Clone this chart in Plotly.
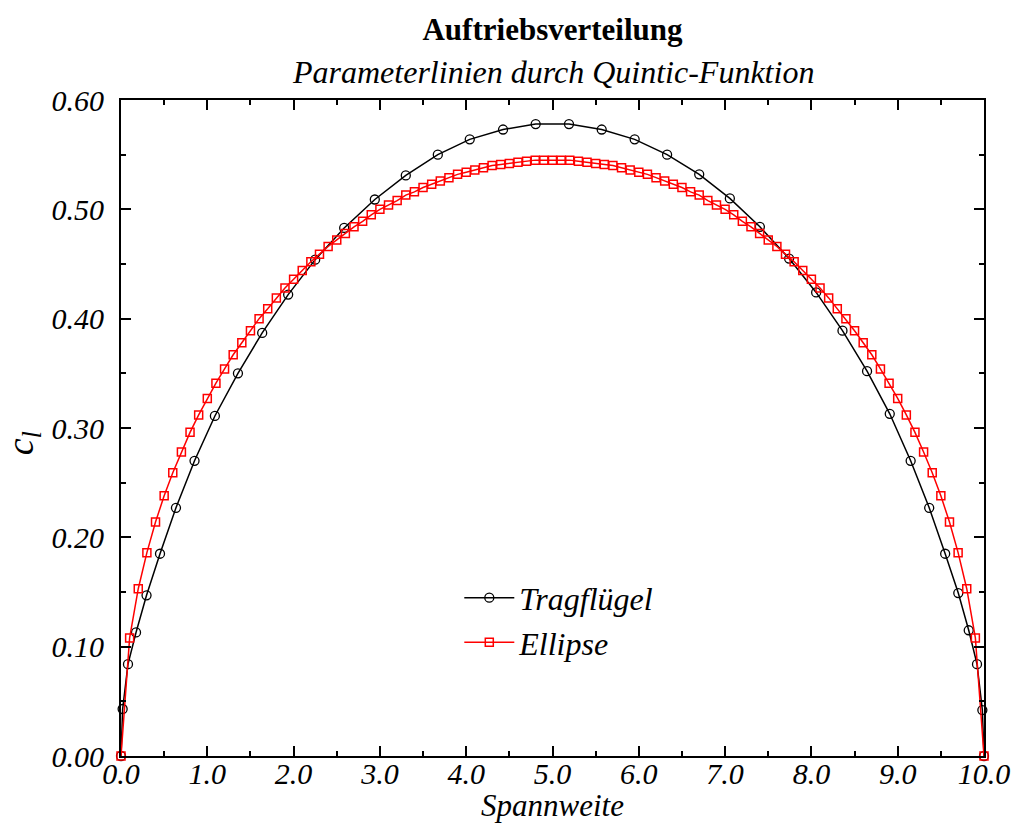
import plotly.graph_objects as go

# Tragflügel: lift coefficient along the span (parameter lines, quintic fit)
spannweite_trag = [
    0.0, 0.019, 0.081, 0.174, 0.296, 0.452, 0.637, 0.852, 1.088, 1.355,
    1.636, 1.937, 2.250, 2.586, 2.941, 3.300, 3.671, 4.041, 4.427, 4.805,
    5.191, 5.570, 5.952, 6.328, 6.700, 7.055, 7.403, 7.742, 8.055, 8.360,
    8.645, 8.908, 9.150, 9.365, 9.550, 9.702, 9.823, 9.919, 9.981, 10.0,
]
cl_trag = [
    0.000, 0.043, 0.084, 0.113, 0.147, 0.185, 0.227, 0.270, 0.311, 0.350,
    0.387, 0.422, 0.454, 0.483, 0.509, 0.531, 0.550, 0.564, 0.573, 0.578,
    0.578, 0.573, 0.564, 0.550, 0.532, 0.510, 0.484, 0.455, 0.424, 0.389,
    0.352, 0.313, 0.270, 0.227, 0.185, 0.149, 0.115, 0.084, 0.042, 0.000,
]

# Ellipse: elliptic lift distribution sampled every 0.1
spannweite_ellipse = [
    0.0, 0.1, 0.2, 0.3, 0.4, 0.5, 0.6, 0.7, 0.8, 0.9,
    1.0, 1.1, 1.2, 1.3, 1.4, 1.5, 1.6, 1.7, 1.8, 1.9,
    2.0, 2.1, 2.2, 2.3, 2.4, 2.5, 2.6, 2.7, 2.8, 2.9,
    3.0, 3.1, 3.2, 3.3, 3.4, 3.5, 3.6, 3.7, 3.8, 3.9,
    4.0, 4.1, 4.2, 4.3, 4.4, 4.5, 4.6, 4.7, 4.8, 4.9,
    5.0, 5.1, 5.2, 5.3, 5.4, 5.5, 5.6, 5.7, 5.8, 5.9,
    6.0, 6.1, 6.2, 6.3, 6.4, 6.5, 6.6, 6.7, 6.8, 6.9,
    7.0, 7.1, 7.2, 7.3, 7.4, 7.5, 7.6, 7.7, 7.8, 7.9,
    8.0, 8.1, 8.2, 8.3, 8.4, 8.5, 8.6, 8.7, 8.8, 8.9,
    9.0, 9.1, 9.2, 9.3, 9.4, 9.5, 9.6, 9.7, 9.8, 9.9,
    10.0,
]
cl_ellipse = [
    0.000, 0.108, 0.153, 0.186, 0.214, 0.238, 0.259, 0.278, 0.296, 0.312,
    0.327, 0.341, 0.354, 0.367, 0.378, 0.389, 0.400, 0.409, 0.419, 0.428,
    0.436, 0.444, 0.452, 0.459, 0.466, 0.472, 0.478, 0.484, 0.489, 0.495,
    0.500, 0.504, 0.508, 0.513, 0.516, 0.520, 0.523, 0.526, 0.529, 0.532,
    0.534, 0.536, 0.538, 0.540, 0.541, 0.542, 0.543, 0.544, 0.545, 0.545,
    0.545, 0.545, 0.545, 0.544, 0.543, 0.542, 0.541, 0.540, 0.538, 0.536,
    0.534, 0.532, 0.529, 0.526, 0.523, 0.520, 0.516, 0.513, 0.508, 0.504,
    0.500, 0.495, 0.489, 0.484, 0.478, 0.472, 0.466, 0.459, 0.452, 0.444,
    0.436, 0.428, 0.419, 0.409, 0.400, 0.389, 0.378, 0.367, 0.354, 0.341,
    0.327, 0.312, 0.296, 0.278, 0.259, 0.238, 0.214, 0.186, 0.153, 0.108,
    0.000,
]
assert len(spannweite_ellipse) == len(cl_ellipse)
assert len(spannweite_trag) == len(cl_trag)

SERIF = "Liberation Serif, Times New Roman, serif"

fig = go.Figure()
fig.add_trace(go.Scatter(
    x=spannweite_trag, y=cl_trag, name="Tragflügel", mode="lines+markers",
    legendgroup="trag",
    line=dict(color="#000000", width=1.5),
    marker=dict(symbol="circle-open", size=9, color="#000000", line=dict(width=1.3)),
    cliponaxis=False,
))
fig.add_trace(go.Scatter(
    x=spannweite_ellipse, y=cl_ellipse, name="Ellipse", mode="lines+markers",
    legendgroup="ellipse",
    line=dict(color="#ff0000", width=1.5),
    marker=dict(symbol="square-open", size=8, color="#ff0000", line=dict(width=1.5)),
    cliponaxis=False,
))

axis_common = dict(
    showline=True, linewidth=2, linecolor="#000000", mirror="allticks",
    ticks="inside", ticklen=10, tickwidth=1.5, tickcolor="#000000",
    showgrid=False, zeroline=False, automargin=False,
    tickfont=dict(family=SERIF, size=30, color="#000000", style="italic"),
)

fig.update_xaxes(
    range=[0, 10], dtick=1, tick0=0, tickformat=".1f",
    ticklabelstandoff=-10,
    minor=dict(ticks="inside", ticklen=5, tickwidth=1.5, tickcolor="#000000", dtick=0.5),
    **axis_common,
)
fig.update_yaxes(
    range=[0, 0.6], dtick=0.1, tick0=0, tickformat=".2f",
    ticklabelstandoff=9,
    minor=dict(ticks="inside", ticklen=5, tickwidth=1.5, tickcolor="#000000", dtick=0.05),
    **axis_common,
)

fig.update_layout(
    width=1015, height=824,
    margin=dict(l=121, r=31, t=100, b=68),
    paper_bgcolor="#ffffff", plot_bgcolor="#ffffff",
    title=dict(
        text="<b>Auftriebsverteilung</b>",
        font=dict(family=SERIF, size=31, color="#000000"),
        x=0.5, xref="paper", xanchor="center",
        y=1 - 29 / 824, yref="container", yanchor="middle",
    ),
    legend=dict(
        x=0.392, y=0.283, xanchor="left", yanchor="top",
        bgcolor="rgba(0,0,0,0)", borderwidth=0,
        font=dict(family=SERIF, size=32, color="#000000", style="italic"),
        itemwidth=50, tracegroupgap=0,
    ),
    annotations=[
        dict(
            text="Parameterlinien durch Quintic-Funktion",
            xref="paper", yref="paper", x=0.5, y=1.043,
            xanchor="center", yanchor="middle", showarrow=False,
            font=dict(family=SERIF, size=32, color="#000000", style="italic"),
        ),
        dict(
            text="Spannweite",
            xref="paper", yref="paper", x=0.5, y=-0.076,
            xanchor="center", yanchor="middle", showarrow=False,
            font=dict(family=SERIF, size=31, color="#000000", style="italic"),
        ),
        dict(
            text="<i>c</i><sub><i>l</i></sub>",
            xref="paper", yref="paper", x=-0.114, y=0.476,
            xanchor="center", yanchor="middle", showarrow=False, textangle=-90,
            font=dict(family=SERIF, size=38, color="#000000"),
        ),
    ],
)

fig.write_html("out.html")
